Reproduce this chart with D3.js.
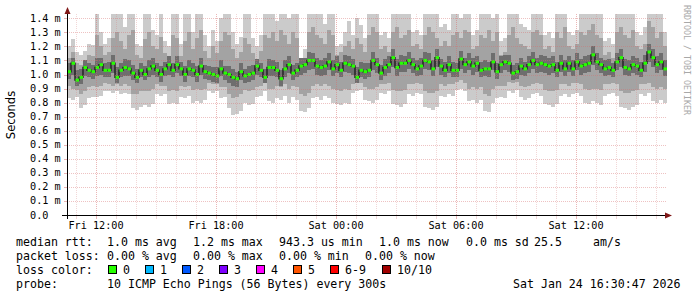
<!DOCTYPE html>
<html>
<head>
<meta charset="utf-8">
<script src="https://cdn.jsdelivr.net/npm/d3@7"></script>
<style>
body { margin: 0; background: #fff; }
svg { display: block; }
</style>
</head>
<body>
<script>
// values in 1/100 ms, one column per 12 minutes
const med = [102,108,96,98,105,103,102,105,107,103,
  103,108,98,103,105,104,101,98,103,100,
  104,106,103,100,104,107,103,107,104,100,
  104,103,100,106,102,101,100,99,104,101,
  100,98,97,102,99,100,101,106,103,98,
  105,105,103,97,104,107,101,103,106,107,
  110,110,106,105,106,109,104,107,103,108,
  107,106,98,103,102,103,110,107,101,105,
  107,112,105,108,108,110,107,104,106,110,
  109,104,112,106,103,107,103,103,111,107,
  109,106,108,103,104,104,109,102,107,109,
  108,101,102,106,104,107,110,107,108,107,
  106,107,103,108,104,108,104,109,106,107,
  108,114,109,107,104,105,103,109,112,105,
  104,107,106,103,108,116,112,107,109,104]

const hi1 = [120,125,116,114,117,122,121,145,130,122,
  126,145,145,145,134,145,145,122,120,145,
  145,132,128,145,124,120,145,145,122,145,
  145,130,145,145,128,120,132,124,140,145,
  145,130,122,127,145,145,126,120,128,145,
  145,145,138,145,145,140,145,145,112,118,
  145,145,145,145,136,145,145,120,122,130,
  138,128,140,135,126,145,145,145,128,130,
  126,145,145,145,145,145,130,132,128,145,
  145,145,145,134,136,132,145,145,140,145,
  145,128,132,145,145,145,140,145,124,126,
  145,145,145,136,134,132,145,145,145,128,
  130,126,145,145,145,130,128,132,145,145,
  145,145,145,145,124,126,122,145,145,145,
  145,145,130,128,134,145,145,145,145,130]

const hi2 = [112,116,108,107,110,114,113,128,120,114,
  116,126,130,124,118,128,132,114,112,125,
  130,120,118,127,115,112,128,126,113,124,
  130,118,126,132,117,112,120,115,124,130,
  128,118,112,116,126,122,115,111,117,128,
  126,130,124,132,128,122,130,126,108,112,
  130,134,128,126,122,132,128,114,116,120,
  124,118,126,122,116,128,134,130,118,120,
  116,130,134,126,128,132,120,122,118,128,
  134,130,126,120,124,120,128,130,126,132,
  130,118,120,128,126,132,124,130,114,116,
  128,134,126,122,120,118,130,132,128,118,
  120,116,130,126,134,120,118,122,130,128,
  132,136,128,126,114,116,112,130,134,128,
  126,132,120,118,122,138,134,126,130,120]

const hi3 = [108,112,103,104,110,108,107,112,112,108,
  109,114,105,108,111,110,107,104,108,106,
  110,112,108,106,109,113,108,113,109,106,
  110,108,106,112,107,106,105,105,110,106,
  106,104,102,108,104,106,107,111,108,104,
  111,110,109,103,110,113,107,108,112,112,
  116,115,112,110,112,115,110,113,109,114,
  113,111,105,109,108,108,116,112,107,111,
  113,118,111,114,113,116,112,110,112,116,
  115,110,118,111,109,113,109,108,117,112,
  115,112,113,109,110,109,115,108,113,114,
  114,107,108,112,109,113,116,112,114,113,
  112,113,109,114,110,113,110,115,111,113,
  114,120,115,112,110,111,108,115,118,111,
  110,113,112,109,114,122,118,113,115,110]

const lo3 = [97,100,92,93,99,98,97,99,100,98,
  98,101,94,98,99,99,96,94,98,96,
  98,100,98,95,99,100,98,101,99,95,
  99,98,95,100,97,96,95,94,99,96,
  94,92,91,96,94,95,96,100,98,94,
  99,99,98,92,98,101,96,98,100,101,
  103,104,100,99,100,103,99,101,98,102,
  101,100,94,98,97,98,103,101,96,99,
  101,105,99,102,102,104,101,99,100,104,
  103,99,105,100,98,101,98,98,104,101,
  103,100,102,98,99,98,103,97,101,103,
  102,96,97,100,99,101,104,101,102,101,
  100,101,98,102,99,102,99,103,100,101,
  102,107,103,101,99,100,98,103,105,100,
  99,101,100,98,102,109,105,101,103,99]

const lo2 = [92,90,89,86,88,91,92,91,92,94,
  93,92,93,92,93,92,86,86,88,88,
  88,90,93,92,92,88,89,88,92,91,
  92,89,90,89,90,94,93,93,91,91,
  86,83,84,86,89,88,89,91,92,94,
  90,90,92,91,93,90,92,91,86,85,
  87,92,93,92,93,92,90,89,88,90,
  89,93,94,94,91,90,90,91,93,93,
  94,89,88,88,89,93,93,94,93,88,
  87,87,88,93,92,93,93,95,96,94,
  90,91,90,91,86,85,90,92,92,92,
  95,94,95,92,91,92,93,94,93,89,
  88,88,89,93,93,92,94,94,93,90,
  89,90,90,89,93,93,94,93,88,87,
  87,88,89,93,93,94,91,90,91,90]

const lo1 = [83,82,84,76,78,83,84,84,85,88,
  88,87,88,86,87,86,76,75,77,78,
  77,79,86,85,86,79,80,79,84,83,
  85,80,81,80,82,88,87,88,83,84,
  76,71,72,74,80,78,79,84,85,88,
  81,80,83,82,85,80,84,82,74,73,
  76,83,84,82,85,83,80,79,78,80,
  79,87,88,89,82,81,80,82,87,86,
  88,79,78,77,79,86,85,87,86,77,
  76,75,77,85,84,86,85,89,90,88,
  81,82,80,82,74,73,80,83,84,83,
  88,87,89,84,82,83,86,87,85,79,
  78,77,79,85,86,84,86,87,85,80,
  79,81,80,78,85,86,87,85,77,76,
  75,77,78,86,85,87,81,80,82,80]

const yTicks = [0,0.1,0.2,0.3,0.4,0.5,0.6,0.7,0.8,0.9,1.0,1.1,1.2,1.3,1.4]
const lossLabels = ["0","1","2","3","4","5","6-9","10/10"]
const lossColors = ["#26ff00","#00b8ff","#0059ff","#7e00ff","#ff00ff","#ff5500","#ff0000","#a10000"]

const legendRows = [
  ["median rtt:", ["1.0 ms avg","1.2 ms max","943.3 us min","1.0 ms now","0.0 ms sd","25.5","am/s"]],
  ["packet loss:", ["0.00 % avg","0.00 % max","0.00 % min","0.00 % now"]],
  ["probe:", ["10 ICMP Echo Pings (56 Bytes) every 300s"]]
]

const svgWidth = 697
const svgHeight = 297
const mono = "'DejaVu Sans Mono', monospace"
const gridCol = "rgba(215,110,110,0.42)"
const gridMajor = "rgba(215,110,110,0.5)"
const gridMinor = "rgba(215,130,130,0.32)"

const svg = d3.select("body").append("svg")
    .attr("width", svgWidth)
    .attr("height", svgHeight)

svg.append("rect")
    .attr("width", svgWidth)
    .attr("height", svgHeight)
    .attr("fill", "#fff")

const start = new Date(2026, 0, 23, 10, 33)
const end = new Date(2026, 0, 24, 16, 33)
const step = 12 * 60 * 1000
const t = i => new Date(start.getTime() + i * step)

const x = d3.scaleTime().domain([start, end]).range([67, 667])
const y = d3.scaleLinear().domain([0, 1.4]).range([215, 18.3])
const v = d => d / 100

svg.append("clipPath").attr("id", "plot")
  .append("rect").attr("x", 67).attr("y", 14).attr("width", 600).attr("height", 201)

const plot = svg.append("g").attr("clip-path", "url(#plot)")

// smoke bands, outer to inner
const bands = [
  [lo1, hi1, "#cbcbcb"],
  [lo2, hi2, "#a3a3a3"],
  [lo3, hi3, "#6e6e6e"]
]
bands.forEach(([lo, hi, col]) => {
  plot.append("g")
    .selectAll("rect")
    .data(med)
    .join("rect")
    .attr("x", (d, i) => x(t(i)))
    .attr("width", (d, i) => x(t(i + 1)) - x(t(i)))
    .attr("y", (d, i) => y(v(hi[i])))
    .attr("height", (d, i) => y(v(lo[i])) - y(v(hi[i])))
    .attr("fill", col)
    .attr("shape-rendering", "crispEdges")
})

// median: dark step line + loss coloured dashes
const idx = d3.range(med.length + 1)
plot.append("path")
    .datum(idx)
    .attr("fill", "none")
    .attr("stroke", "#202020")
    .attr("stroke-width", 1.4)
    .attr("d", d3.line()
      .curve(d3.curveStepAfter)
      .x(i => x(t(i)))
      .y(i => y(v(med[Math.min(i, med.length - 1)])))
    )

plot.append("g")
    .selectAll("rect")
    .data(med)
    .join("rect")
    .attr("x", (d, i) => x(t(i)) + 0.5)
    .attr("width", (d, i) => x(t(i + 1)) - x(t(i)) - 0.5)
    .attr("y", d => y(v(d)) - 1.5)
    .attr("height", 3)
    .attr("fill", lossColors[0])

// grid
const grid = svg.append("g").attr("shape-rendering", "crispEdges")
grid.selectAll(".hg")
    .data(yTicks.slice(1))
    .join("line")
    .attr("x1", 67).attr("x2", 667)
    .attr("y1", d => Math.round(y(d)) + 0.5)
    .attr("y2", d => Math.round(y(d)) + 0.5)
    .attr("stroke", gridCol)
    .attr("stroke-dasharray", "1,1")

const hours = x.ticks(d3.timeHour.every(1))
grid.selectAll(".vg")
    .data(hours)
    .join("line")
    .attr("x1", d => Math.round(x(d)) + 0.5)
    .attr("x2", d => Math.round(x(d)) + 0.5)
    .attr("y1", 14).attr("y2", 215)
    .attr("stroke", d => d.getHours() % 6 == 0 ? gridMajor : gridMinor)
    .attr("stroke-dasharray", "1,1")

grid.selectAll(".xt")
    .data(hours)
    .join("line")
    .attr("x1", d => Math.round(x(d)) + 0.5)
    .attr("x2", d => Math.round(x(d)) + 0.5)
    .attr("y1", 216).attr("y2", 219)
    .attr("stroke", d => d.getHours() % 6 == 0 ? gridMajor : gridMinor)

// axes
svg.append("line")
    .attr("x1", 62).attr("x2", 669)
    .attr("y1", 215.5).attr("y2", 215.5)
    .attr("stroke", "#000")
svg.append("line")
    .attr("x1", 67.5).attr("x2", 67.5)
    .attr("y1", 11).attr("y2", 219)
    .attr("stroke", "#000")
svg.append("path")
    .attr("d", "M665,212.5 L672,215.5 L665,218.5 Z")
    .attr("fill", "#801818")
svg.append("path")
    .attr("d", "M64.5,14 L67.5,7 L70.5,14 Z")
    .attr("fill", "#801818")

svg.append("g")
    .selectAll("line")
    .data(yTicks)
    .join("line")
    .attr("x1", 64).attr("x2", 67)
    .attr("y1", d => Math.round(y(d)) + 0.5)
    .attr("y2", d => Math.round(y(d)) + 0.5)
    .attr("stroke", d => d == 0 ? "#000" : gridMajor)

svg.append("g")
    .selectAll("text")
    .data(yTicks)
    .join("text")
    .attr("x", 30)
    .attr("y", d => y(d) + 3.5)
    .attr("font-family", mono)
    .attr("font-size", "10.2px")
    .attr("fill", "#000")
    .text(d => d == 0 ? "0.0" : d3.format(".1f")(d) + " m")

svg.append("g")
    .selectAll("text")
    .data(hours.filter(d => d.getHours() % 6 == 0))
    .join("text")
    .attr("x", d => x(d))
    .attr("y", 228.5)
    .attr("text-anchor", "middle")
    .attr("font-family", mono)
    .attr("font-size", "10.2px")
    .text(d => d3.timeFormat("%a %H:%M")(d))

svg.append("text")
    .attr("transform", "translate(15,115) rotate(-90)")
    .attr("text-anchor", "middle")
    .attr("font-family", "'DejaVu Sans', sans-serif")
    .attr("font-size", "11.5px")
    .text("Seconds")

svg.append("text")
    .attr("transform", "translate(684,5) rotate(90)")
    .attr("font-family", mono)
    .attr("font-size", "8.3px")
    .attr("fill", "#a8a8a8")
    .text("RRDTOOL / TOBI OETIKER")

// legend
const legX = [107, 193, 279, 379, 466, 534, 593]
const legX2 = [107, 193, 279, 365]
const leg = svg.append("g")
    .attr("font-family", mono)
    .attr("font-size", "11.6px")
    .attr("fill", "#000")
    .attr("xml:space", "preserve")

leg.append("text").attr("x", 16).attr("y", 245.5).text(legendRows[0][0])
legendRows[0][1].forEach((s, i) => leg.append("text").attr("x", legX[i]).attr("y", 245.5).text(s))
leg.append("text").attr("x", 16).attr("y", 259.5).text(legendRows[1][0])
legendRows[1][1].forEach((s, i) => leg.append("text").attr("x", legX2[i]).attr("y", 259.5).text(s))
leg.append("text").attr("x", 16).attr("y", 273.5).text("loss color:")
const boxX = [108, 145, 182, 219, 256, 293, 330, 382]
lossLabels.forEach((s, i) => {
  leg.append("rect")
    .attr("x", boxX[i] + 0.5).attr("y", 265.5)
    .attr("width", 8).attr("height", 8)
    .attr("fill", lossColors[i])
    .attr("stroke", "#000")
  leg.append("text").attr("x", boxX[i] + 15).attr("y", 273.5).text(s)
})
leg.append("text").attr("x", 16).attr("y", 287.5).text(legendRows[2][0])
leg.append("text").attr("x", 107).attr("y", 287.5).text(legendRows[2][1][0])
leg.append("text").attr("x", 513).attr("y", 287.5).text("Sat Jan 24 16:30:47 2026")
</script>
</body>
</html>
